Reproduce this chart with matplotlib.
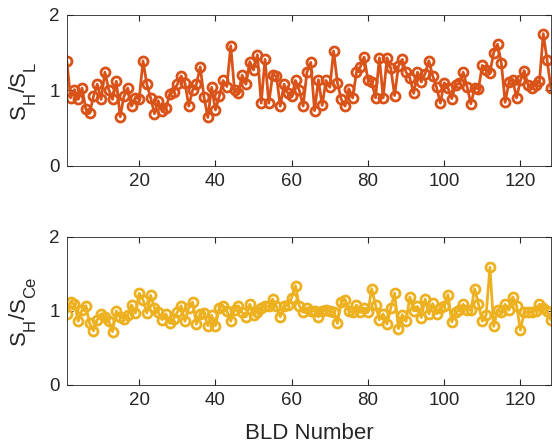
import numpy as np
import matplotlib
matplotlib.use("Agg")
import matplotlib.pyplot as plt
from matplotlib.transforms import IdentityTransform

plt.rcParams["font.family"] = ["Liberation Sans", "DejaVu Sans"]

# S_H / S_L ratio per building
ratio_sl = [
    1.39, 0.90, 1.01, 0.88, 1.03, 0.75, 0.70, 0.92, 1.08, 0.88,
    1.24, 1.01, 0.88, 1.12, 0.65, 0.92, 1.03, 0.79, 0.90, 0.89,
    1.39, 1.08, 0.90, 0.69, 0.86, 0.72, 0.76, 0.95, 0.98, 1.08,
    1.19, 1.10, 0.79, 1.00, 1.08, 1.31, 0.91, 0.64, 1.04, 0.74,
    0.92, 1.13,
    1.05, 1.59, 1.00, 0.96, 1.20, 1.08, 1.38, 1.27, 1.47, 0.83,
    1.41, 0.83, 1.20, 1.19, 0.79, 1.08, 0.96, 0.92, 1.13, 1.00,
    0.79, 1.24, 1.37, 0.73, 1.14, 0.80, 1.13, 1.04, 1.52, 1.10,
    0.88, 0.79, 1.02, 0.90, 1.24, 1.31, 1.44, 1.14, 1.11, 0.90,
    1.43,
    0.90, 1.43, 1.29, 0.93, 1.32, 1.41, 1.24, 1.16, 0.96, 1.24,
    1.11, 1.22, 1.39, 1.19, 1.04, 0.83, 1.10, 1.03, 0.89, 1.07,
    1.09, 1.24, 1.05, 0.82, 1.03, 1.02, 1.33, 1.27, 1.23, 1.50,
    1.61, 1.36, 0.84, 1.11, 1.13, 0.90, 1.13, 1.26, 1.07, 1.03,
    1.07, 1.12, 1.75, 1.40, 1.03,
]

# S_H / S_Ce ratio per building
ratio_sce = [
    0.96, 1.12, 1.09, 0.86, 1.01, 1.07, 0.83, 0.73, 0.88, 0.96,
    0.92, 0.86, 0.72, 1.00, 0.92, 0.89, 0.95, 1.08, 0.97, 1.24,
    1.15, 0.97, 1.21, 1.04, 0.98, 0.88, 0.96, 0.83, 0.89, 0.98,
    1.07, 0.86, 1.04, 1.12, 0.82, 0.96, 0.97, 0.80, 0.94, 0.80,
    1.04, 1.07,
    1.00, 0.86, 1.01, 1.07, 0.98, 0.92, 1.09, 0.95, 0.98, 1.04,
    1.06, 1.06, 1.16, 1.06, 0.92, 1.06, 1.08, 1.18, 1.34, 1.07,
    0.98, 1.04, 1.00, 1.00, 0.92, 1.00, 1.01, 1.00, 0.98, 0.83,
    1.12, 1.15, 1.00, 0.98, 1.08, 0.98, 1.04, 0.98, 1.30,
    1.08, 0.88, 0.96, 0.82, 1.04, 1.24, 0.76, 0.95, 0.86, 1.19,
    1.00, 1.06, 0.91, 1.16, 0.96, 1.10, 0.96, 1.04, 1.06, 1.22,
    0.85, 0.98, 1.01, 1.09, 1.01, 1.01, 1.30, 1.09, 0.86, 0.94,
    1.59, 0.79, 1.01, 0.98, 1.09, 1.01, 1.19, 1.07, 0.74, 0.98,
    0.98, 0.98, 1.00, 1.09, 1.04, 1.00, 0.88,
]

label_sl = [("S", False), ("H", True), ("/", False), ("S", False), ("L", True)]
label_sce = [("S", False), ("H", True), ("/", False), ("S", False), ("Ce", True)]

DPI = 100
fig = plt.figure(figsize=(5.52, 4.47), dpi=DPI)
ax1 = fig.add_axes([0.121, 0.629, 0.877, 0.338])
ax2 = fig.add_axes([0.121, 0.139, 0.877, 0.331])
renderer = fig.canvas.get_renderer()
TXT = "#262626"


def side_label(ax, parts, x_base=25, sub_shift=10, main_size=16, sub_size=12):
    # matlab style y label with big subscripts, drawn piece by piece (pixels)
    pieces = []
    for s, sub in parts:
        t = fig.text(0, 0, s, rotation=90, rotation_mode="anchor", ha="left",
                     va="baseline", fontsize=sub_size if sub else main_size,
                     color=TXT, transform=IdentityTransform())
        pieces.append((t, sub, t.get_window_extent(renderer).height))
    total = sum(p[2] for p in pieces)
    bb = ax.get_position()
    y = (bb.y0 + bb.height / 2) * fig.bbox.height - total / 2
    for t, sub, h in pieces:
        t.set_position((x_base + (sub_shift if sub else 0), y))
        y += h


series = [
    (ax1, ratio_sl, "#D95319", label_sl),
    (ax2, ratio_sce, "#EDB120", label_sce),
]

for ax, vals, col, lab in series:
    ax.plot(np.arange(1, len(vals) + 1), vals, "-o", color=col, lw=2,
            ms=6.5, mew=2, mfc="none")
    ax.set_xlim(1, 128)
    ax.set_ylim(0, 2)
    ax.set_yticks([0, 1, 2])
    ax.set_xticks([20, 40, 60, 80, 100, 120])
    ax.tick_params(direction="in", labelsize=13.5, length=4, top=True,
                   right=True, colors=TXT, pad=5)
    for s in ax.spines.values():
        s.set_color(TXT)
        s.set_linewidth(0.6)
    side_label(ax, lab)

ax2.set_xlabel("BLD Number", fontsize=16, labelpad=10, color=TXT)

fig.savefig("out.png", dpi=DPI)
